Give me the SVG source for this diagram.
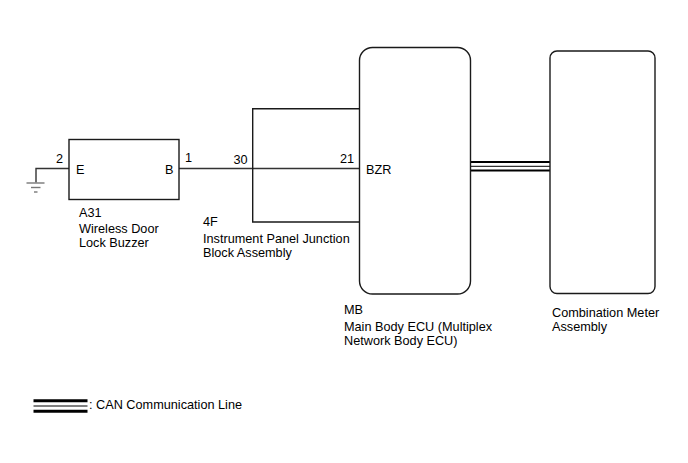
<svg xmlns="http://www.w3.org/2000/svg" width="688" height="463" viewBox="0 0 688 463">
<style>
text{font-family:"Liberation Sans",Arial,sans-serif;font-size:12.7px;fill:#000}
.box{fill:none;stroke:#1a1a1a;stroke-width:1.4}
.wire{fill:none;stroke:#333;stroke-width:1.4}
.gnd{fill:none;stroke:#777;stroke-width:1.4}
.can{stroke:#000}
</style>
<rect width="688" height="463" fill="#fff"/>
<g id="connectors">
<polyline class="wire" points="36,182.5 36,168.5 69,168.5"/>
<line class="wire" x1="179" y1="168.5" x2="359.5" y2="168.5"/>
<line class="gnd" x1="26.5" y1="183" x2="44.5" y2="183"/>
<line class="gnd" x1="31" y1="187.5" x2="40.5" y2="187.5"/>
<line class="gnd" x1="34" y1="192" x2="37.5" y2="192"/>
<g id="can-bus">
<line class="can" x1="471" y1="162" x2="550" y2="162" stroke-width="2"/>
<line class="can" x1="471" y1="166.3" x2="550" y2="166.3" stroke-width="1"/>
<line class="can" x1="471" y1="170.5" x2="550" y2="170.5" stroke-width="2"/>
</g>
</g>
<g id="buzzer">
<rect class="box" x="69" y="139.5" width="110" height="60"/>
<text x="56" y="163">2</text>
<text x="76" y="173.5">E</text>
<text x="165" y="173.5">B</text>
<text x="185" y="162">1</text>
<text x="79" y="217">A31</text>
<text x="79" y="232.5">Wireless Door</text>
<text x="79" y="247">Lock Buzzer</text>
</g>
<g id="junction-block">
<polyline class="box" points="359.5,108.7 252.7,108.7 252.7,222 359.5,222"/>
<text x="247.5" y="163.5" text-anchor="end">30</text>
<text x="354" y="163" text-anchor="end">21</text>
<text x="203" y="226">4F</text>
<text x="203" y="242.5">Instrument Panel Junction</text>
<text x="203" y="256.5">Block Assembly</text>
</g>
<g id="main-body-ecu">
<rect class="box" x="359.5" y="47.5" width="111" height="246.5" rx="13" ry="13"/>
<text x="366" y="173.5">BZR</text>
<text x="344" y="314">MB</text>
<text x="344" y="330.5">Main Body ECU (Multiplex</text>
<text x="344" y="345">Network Body ECU)</text>
</g>
<g id="combination-meter">
<rect class="box" x="550" y="51" width="105" height="242.5" rx="7" ry="7"/>
<text x="552" y="316.5">Combination Meter</text>
<text x="552" y="330.5">Assembly</text>
</g>
<g id="legend">
<line class="can" x1="33.5" y1="400.7" x2="87.5" y2="400.7" stroke-width="3"/>
<line class="can" x1="33.5" y1="406" x2="87.5" y2="406" stroke-width="1"/>
<line class="can" x1="33.5" y1="411.3" x2="87.5" y2="411.3" stroke-width="3"/>
<text x="89" y="408.5">: CAN Communication Line</text>
</g>
</svg>
